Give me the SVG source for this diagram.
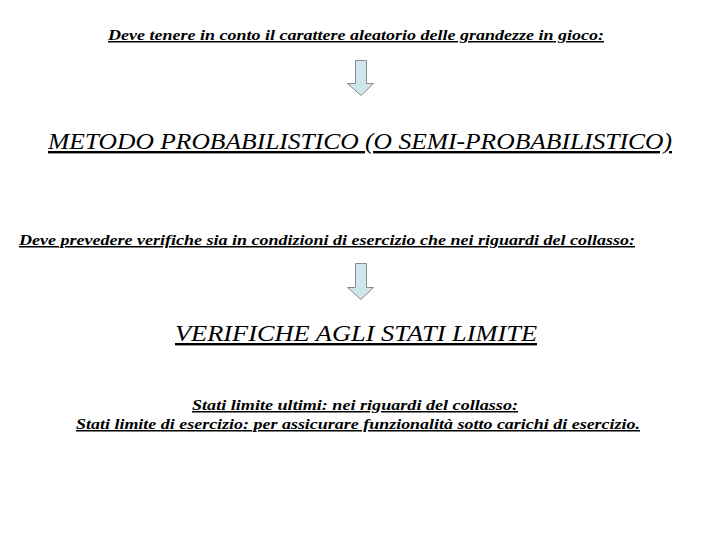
<svg xmlns="http://www.w3.org/2000/svg" width="720" height="540" viewBox="0 0 720 540">
<style>
.b{font-family:'Liberation Serif','DejaVu Serif','Times New Roman',Times,serif;font-weight:700;font-style:italic;font-size:15px;text-decoration:underline;fill:#000}
.h{font-family:'Liberation Serif','DejaVu Serif','Times New Roman',Times,serif;font-style:italic;font-size:24px;text-decoration:underline;fill:#000}
.arr{fill:#cfe6ec;stroke:#8a8a8a;stroke-width:1}
</style>
<rect width="720" height="540" fill="#fff"/>
<g id="t1"><text class="b" x="356" y="40" text-anchor="middle" textLength="496" lengthAdjust="spacingAndGlyphs">Deve tenere in conto il carattere aleatorio delle grandezze in gioco:</text></g>
<g id="t2"><text class="h" x="360" y="149" text-anchor="middle" textLength="624" lengthAdjust="spacingAndGlyphs">METODO PROBABILISTICO (O SEMI-PROBABILISTICO)</text></g>
<g id="t3"><text class="b" x="327" y="245" text-anchor="middle" textLength="616" lengthAdjust="spacingAndGlyphs">Deve prevedere verifiche sia in condizioni di esercizio che nei riguardi del collasso:</text></g>
<g id="t4"><text class="h" x="356" y="341" text-anchor="middle" textLength="362" lengthAdjust="spacingAndGlyphs">VERIFICHE AGLI STATI LIMITE</text></g>
<g id="t5"><text class="b" x="355" y="410" text-anchor="middle" textLength="326" lengthAdjust="spacingAndGlyphs">Stati limite ultimi: nei riguardi del collasso:</text>
<text class="b" x="358" y="429" text-anchor="middle" textLength="564" lengthAdjust="spacingAndGlyphs">Stati limite di esercizio: per assicurare funzionalità sotto carichi di esercizio.</text></g>
<g id="connectors">
<polygon class="arr" points="355.5,60.5 366.5,60.5 366.5,83.5 373.5,83.5 361,95.5 347.5,83.5 355.5,83.5"/>
<polygon class="arr" points="355.5,263.5 366.5,263.5 366.5,287.5 373.5,287.5 361,299.5 347.5,287.5 355.5,287.5"/>
</g>
</svg>
